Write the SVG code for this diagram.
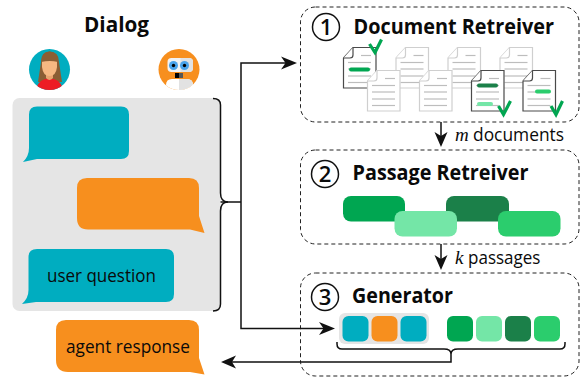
<svg xmlns="http://www.w3.org/2000/svg" xmlns:xlink="http://www.w3.org/1999/xlink" width="580" height="377" viewBox="0 0 580 377">
<style>
text{font-family:"Open Sans","Noto Sans","Liberation Sans",sans-serif;fill:#0a0a0a}
.title{font-size:21px;font-weight:700}
.lbl{font-size:17.5px}
.var{font-family:"Liberation Serif",serif;font-style:italic;font-size:19px}
.num{font-size:22px;font-weight:600;text-anchor:middle}
.box{fill:none;stroke:#222;stroke-width:1;stroke-dasharray:4 3}
.ring{fill:#fff;stroke:#111;stroke-width:1.5}
.conn{fill:none;stroke:#111;stroke-width:1.5}
.teal{fill:#00adc0}.orange{fill:#f78f1e}
.g1{fill:#00a651}.g2{fill:#74e6a7}.g3{fill:#1b8049}.g4{fill:#2bcd6d}
.check{fill:none;stroke:#00a651;stroke-width:3.2}
.hl{stroke-width:4;stroke-linecap:round;fill:none}
</style>
<defs>
<g id="doc"><path d="M10 .5H33V41H.5V11Z" fill="#fff" stroke-width="1.200"/><path d="M10 .5V8Q10 11 7 11H.5" fill="#fff" stroke-width="1.200"/><line x1="18" x2="28" y1="8.500" y2="8.500" stroke="#bdbdbd" stroke-width="1.200"/><line x1="5" x2="28" y1="15.500" y2="15.500" stroke="#bdbdbd" stroke-width="1.200"/><line x1="5" x2="28" y1="22" y2="22" stroke="#bdbdbd" stroke-width="1.200"/><line x1="5" x2="28" y1="29" y2="29" stroke="#bdbdbd" stroke-width="1.200"/><line x1="5" x2="28" y1="35.500" y2="35.500" stroke="#bdbdbd" stroke-width="1.200"/></g>
<clipPath id="cp"><circle cx="49.500" cy="69.500" r="20.500"/></clipPath>
<clipPath id="cr"><circle cx="179" cy="69.500" r="20.500"/></clipPath>
</defs>

<g id="dialog-title"><text class="title" x="84" y="32" textLength="65" lengthAdjust="spacingAndGlyphs">Dialog</text></g>

<g id="user-avatar">
<circle cx="49.500" cy="69.500" r="20.500" class="teal"/>
<g clip-path="url(#cp)">
<path d="M38 82L41 62Q41 51.500 49.500 51.500Q59 51.500 59 62L62 82Z" fill="#8b5e34"/>
<path d="M36 92Q36 82 45 79H54Q63 82 63 92Z" fill="#ed1c24"/>
<path d="M46 74H53V78Q49.500 82 46 78Z" fill="#e9a46f"/>
<path d="M42 60H57V67Q56 76 49.500 76Q43 76 42 67Z" fill="#f6b882"/>
<path d="M41 62Q42 51.500 49.500 51.500Q58 51.500 58 62Q50 60 41 62Z" fill="#8b5e34"/>
</g>
</g>

<g id="agent-avatar">
<circle cx="179" cy="69.500" r="20.500" class="orange"/>
<g clip-path="url(#cr)">
<rect x="167.500" y="58" width="25.500" height="14" rx="4" fill="#f2f2f2"/>
<path d="M180.500 58H189Q193 58 193 62V68Q193 72 189 72H180.500Z" fill="#e2e2e2"/>
<circle cx="173.500" cy="65.500" r="4.500" fill="#4aa3ea"/><circle cx="184.500" cy="65.500" r="4.500" fill="#4aa3ea"/>
<circle cx="173.500" cy="65.500" r="1.700" fill="#000"/><circle cx="184.500" cy="65.500" r="1.700" fill="#000"/>
<rect x="175" y="73" width="4" height="5" fill="#000"/><rect x="179" y="73" width="4" height="5" fill="#555"/>
<path d="M166 92V85Q166 79 172 79H187Q193 79 193 85V92Z" fill="#fff"/>
<path d="M179 79H187Q193 79 193 85V92H179Z" fill="#e2e2e2"/>
</g>
</g>

<g id="dialog-panel"><rect x="12.500" y="98" width="208" height="213" rx="7" fill="#e5e5e5"/></g>

<g id="bubble-user-1"><path class="teal" d="M37 106.500H121Q129 106.500 129 114.500V151Q129 159 121 159H37L23 162Q29 156 29 148V114.500Q29 106.500 37 106.500Z"/></g>
<g id="bubble-agent-1"><path class="orange" d="M87 178H189Q199 178 199 188V216L204.500 233L190 229.500H88Q77 229.500 77 218V188Q77 178 87 178Z"/></g>
<g id="bubble-user-2"><path class="teal" d="M37 249H166Q174 249 174 257V294Q174 302 166 302H36L22 304Q28.500 298 28.500 290V257Q28.500 249 37 249Z"/><text class="lbl" x="47" y="282" textLength="109" lengthAdjust="spacingAndGlyphs">user question</text></g>
<g id="bubble-agent-2"><path class="orange" d="M66 320H189Q199 320 199 330V358L204.500 374.500L190 372H68Q56 372 56 360V330Q56 320 66 320Z"/><text class="lbl" x="66" y="353" textLength="124" lengthAdjust="spacingAndGlyphs">agent response</text></g>

<g id="step-1">
<rect class="box" x="300.500" y="7" width="278.500" height="115" rx="15"/>
<circle class="ring" cx="326" cy="27" r="13.500"/><text class="num" x="326" y="35">1</text>
<text class="title" x="353.500" y="34" textLength="200.500" lengthAdjust="spacingAndGlyphs">Document Retreiver</text>
<g stroke="#cfcfcf">
<use xlink:href="#doc" href="#doc" x="395.500" y="47"/><use xlink:href="#doc" href="#doc" x="447.500" y="47"/><use xlink:href="#doc" href="#doc" x="499.500" y="47"/>
</g>
<g stroke="#4a4a4a"><use xlink:href="#doc" href="#doc" x="343" y="47"/></g>
<g stroke="#cfcfcf"><use xlink:href="#doc" href="#doc" x="367" y="70"/><use xlink:href="#doc" href="#doc" x="419" y="70"/></g>
<g stroke="#4a4a4a"><use xlink:href="#doc" href="#doc" x="471" y="70"/><use xlink:href="#doc" href="#doc" x="522.500" y="70"/></g>
<line class="hl" stroke="#00a651" x1="351" x2="368" y1="69.500" y2="69.500"/>
<line class="hl" stroke="#1b8049" x1="479" x2="496" y1="85.500" y2="85.500"/>
<line class="hl" stroke="#74e6a7" x1="479" x2="491" y1="104" y2="104"/>
<line class="hl" stroke="#2bcd6d" x1="537" x2="549" y1="91.500" y2="91.500"/>
<path class="check" d="M369.500 44L375 52.500L381.500 39.500"/>
<path class="check" d="M498.500 106L503.500 114.500L510.500 101"/>
<path class="check" d="M551 106L556 114.500L562.500 101"/>
</g>

<g id="step-2">
<rect class="box" x="300.500" y="150" width="278.500" height="94" rx="15"/>
<circle class="ring" cx="325" cy="174" r="13.500"/><text class="num" x="325" y="182">2</text>
<text class="title" x="352.500" y="180" textLength="176" lengthAdjust="spacingAndGlyphs">Passage Retreiver</text>
<rect class="g1" x="343" y="196" width="62" height="25.500" rx="8"/>
<rect class="g3" x="446" y="196" width="63" height="25.500" rx="8"/>
<rect class="g2" x="394.500" y="211" width="62.500" height="25.500" rx="8"/>
<rect class="g4" x="498" y="211" width="62.500" height="25.500" rx="8"/>
</g>

<g id="step-3">
<rect class="box" x="300.500" y="273" width="278.500" height="103" rx="15"/>
<circle class="ring" cx="325" cy="297" r="13.500"/><text class="num" x="325" y="305">3</text>
<text class="title" x="352" y="303" textLength="101" lengthAdjust="spacingAndGlyphs">Generator</text>
<rect x="339" y="313" width="90" height="31" rx="6" fill="#e5e5e5"/>
<rect class="teal" x="342.500" y="316" width="26" height="25.500" rx="6"/>
<rect class="orange" x="371.500" y="316" width="26" height="25.500" rx="6"/>
<rect class="teal" x="400.500" y="316" width="26" height="25.500" rx="6"/>
<rect class="g1" x="447" y="316" width="26" height="25.500" rx="6"/>
<rect class="g2" x="476" y="316" width="26" height="25.500" rx="6"/>
<rect class="g3" x="505" y="316" width="26" height="25.500" rx="6"/>
<rect class="g4" x="534" y="316" width="26" height="25.500" rx="6"/>
</g>

<g id="connectors">
<path class="conn" d="M213 98.500Q220.500 98.500 220.500 105V193Q220.500 202 228 202Q220.500 202 220.500 211V304Q220.500 311 213 311"/>
<path class="conn" d="M220.500 202H241"/>
<path class="conn" d="M290 63H241V328.500H328"/>
<path d="M297 63L281 56.500L285.500 63L281 69.500Z" fill="#111"/>
<path d="M335 328.500L319 322L323.500 328.500L319 335Z" fill="#111"/>
<path class="conn" d="M337 342V344Q337 349 342 349H444Q451 349 451 354Q451 349 458 349H560Q565 349 565 344V342"/>
<path class="conn" d="M451 354V362H232"/>
<path d="M221 362L236 355.500L232 362L236 368.500Z" fill="#111"/>
<path class="conn" d="M441 122V138"/>
<path d="M441 147L434.500 132L441 136L447.500 132Z" fill="#111"/>
<path class="conn" d="M441 244V262"/>
<path d="M441 270L434.500 255L441 259L447.500 255Z" fill="#111"/>
</g>
<g id="labels">
<text class="var" x="455" y="141" style="font-family:'Liberation Serif',serif;font-style:italic">m</text>
<text class="lbl" x="473" y="141" textLength="91" lengthAdjust="spacingAndGlyphs">documents</text>
<text class="var" x="455" y="264" style="font-family:'Liberation Serif',serif;font-style:italic">k</text>
<text class="lbl" x="468" y="264" textLength="72.500" lengthAdjust="spacingAndGlyphs">passages</text>
</g>
</svg>
